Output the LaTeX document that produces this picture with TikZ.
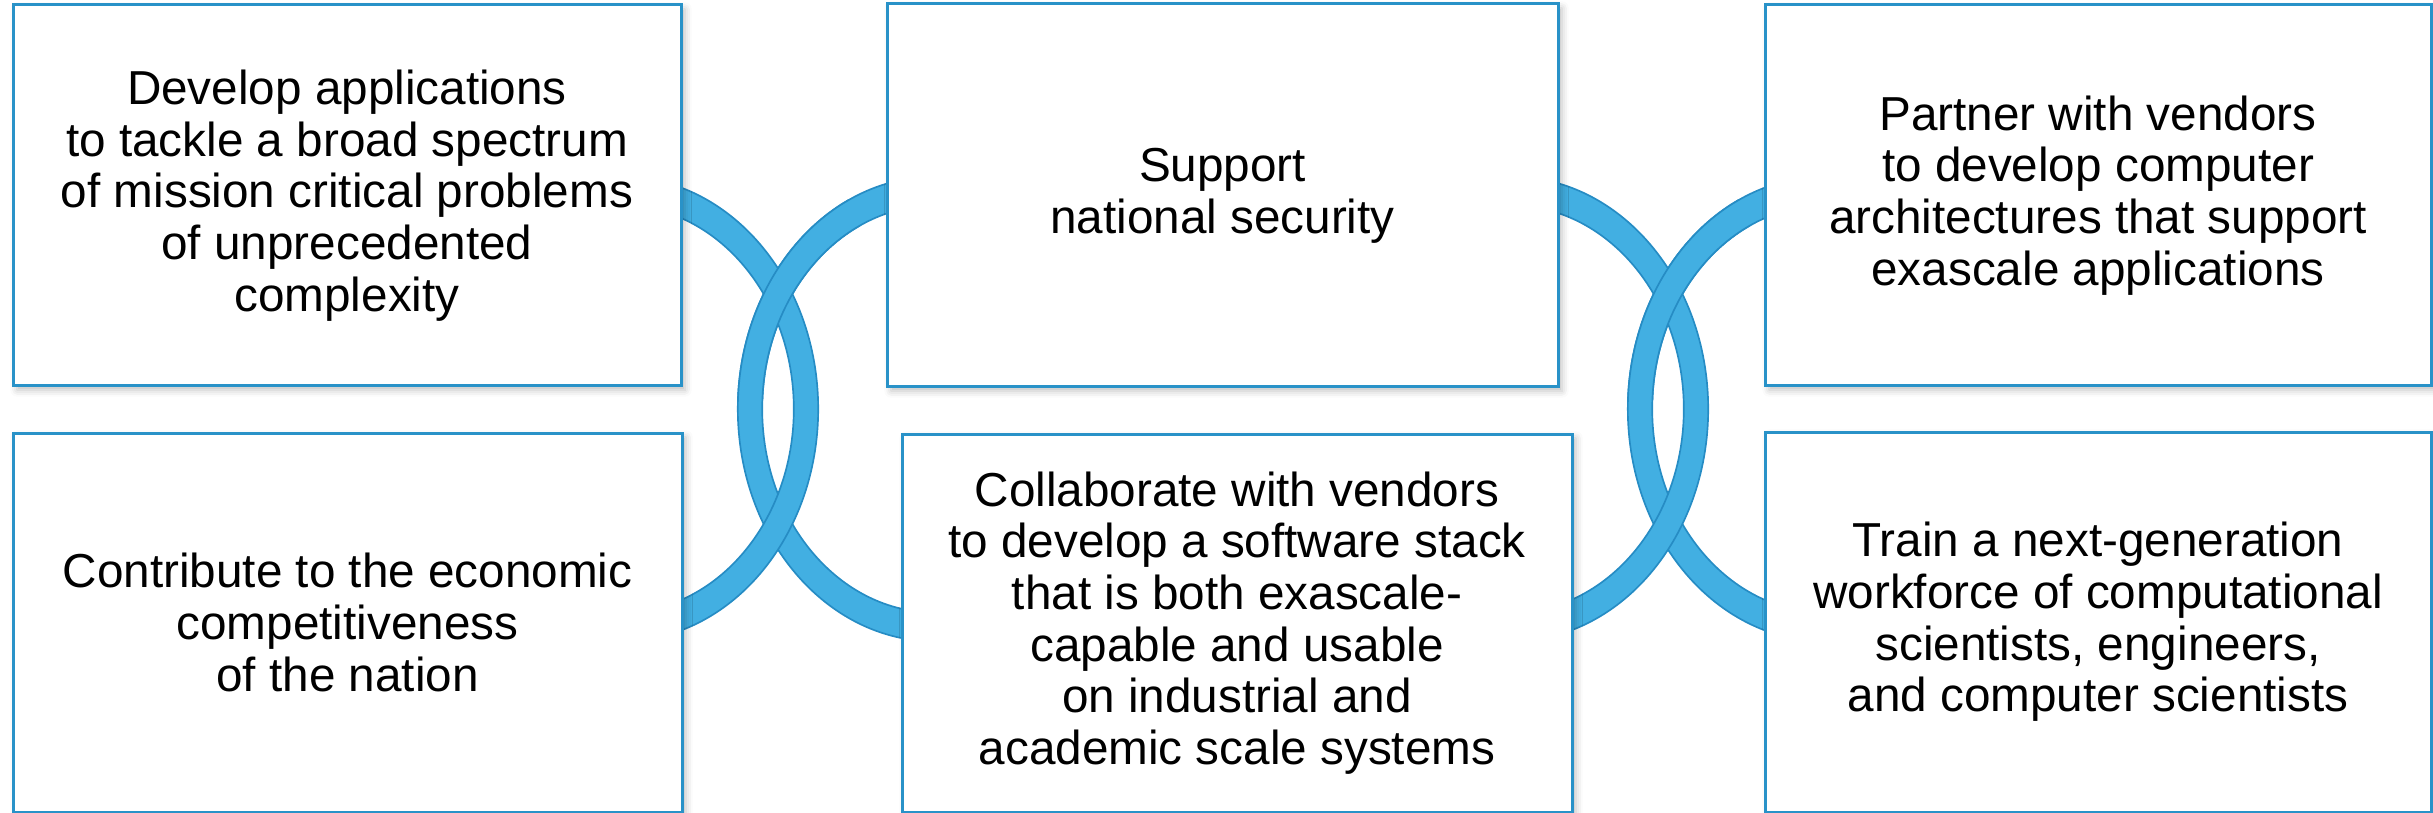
\documentclass[tikz,border=0pt]{standalone}
\usepackage{fontspec}
\setmainfont{Liberation Sans}
\usetikzlibrary{shadows.blur}
\definecolor{boxblue}{RGB}{41,146,200}
\definecolor{ringfill}{RGB}{66,175,226}
\definecolor{ringedge}{RGB}{38,140,196}
\newcommand{\myring}[2]{%
  \path[ringband] (#1,#2) ellipse [x radius=59.16pt, y radius=69.72pt]
                  (#1,#2) ellipse [x radius=51.84pt, y radius=61.08pt];}
\begin{document}
\begin{tikzpicture}[x=0.3pt,y=-0.3pt,
  box/.style={draw=boxblue, line width=0.9pt, fill=white, align=center, inner sep=0pt,
    font=\fontsize{14.3}{15.5}\selectfont,
    blur shadow={shadow xshift=1.2pt, shadow yshift=-1.2pt, shadow blur radius=2pt, shadow opacity=25}},
  ringband/.style={fill=ringfill, draw=ringedge, line width=0.5pt, even odd rule}]
\useasboundingbox (0,0) rectangle (2433,813);

% left pair of rings
\begin{scope}
  \clip (681,0) rectangle (902,813);
  \myring{935}{409}
  \myring{621}{409}
\end{scope}
\begin{scope}
  \clip (700,200) rectangle (860,400);
  \myring{935}{409}
\end{scope}

% right pair of rings
\begin{scope}
  \clip (1558,0) rectangle (1765,813);
  \myring{1825}{409}
  \myring{1511}{409}
\end{scope}
\begin{scope}
  \clip (1580,200) rectangle (1750,400);
  \myring{1825}{409}
\end{scope}

\node[box, minimum width=200.4pt, minimum height=114.3pt] (b1) at (347,195.5)
  {Develop applications\\to tackle a broad spectrum\\of mission critical problems\\of unprecedented\\complexity};
\node[box, minimum width=201.3pt, minimum height=114.9pt] (b2) at (1222.5,195.5)
  {Support\\national security};
\node[box, minimum width=199.8pt, minimum height=114.3pt] (b3) at (2098,195.5)
  {Partner with vendors\\to develop computer\\architectures that support\\exascale applications};
\node[box, minimum width=200.7pt, minimum height=113.7pt] (b4) at (347.5,622.5)
  {Contribute to the economic\\competitiveness\\of the nation};
\node[box, minimum width=201pt, minimum height=113.4pt] (b5) at (1237,623)
  {Collaborate with vendors\\to develop a software stack\\that is both exascale-\\capable and usable\\on industrial and\\academic scale systems};
\node[box, minimum width=199.8pt, minimum height=114pt] (b6) at (2098,622)
  {Train a next-generation\\workforce of computational\\scientists, engineers,\\and computer scientists};
\end{tikzpicture}
\end{document}
